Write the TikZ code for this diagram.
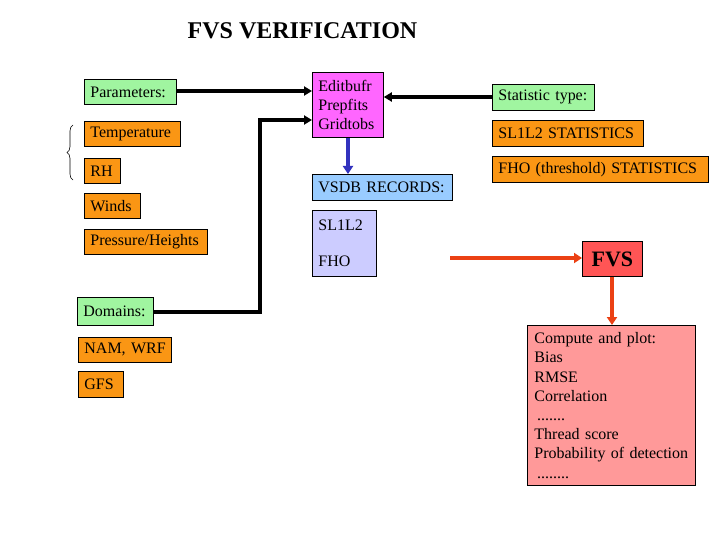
\documentclass[tikz,border=0pt]{standalone}
\usepackage{fontspec}
\setmainfont{Liberation Serif}
\usetikzlibrary{arrows.meta,decorations.pathreplacing}
\definecolor{cgreen}{RGB}{160,245,160}
\definecolor{corange}{RGB}{250,150,20}
\definecolor{cmagenta}{RGB}{255,102,255}
\definecolor{cblue}{RGB}{153,204,255}
\definecolor{clav}{RGB}{204,204,255}
\definecolor{cred}{RGB}{255,85,85}
\definecolor{cpink}{RGB}{255,153,153}
\definecolor{carrowred}{RGB}{235,65,20}
\definecolor{carrowblue}{RGB}{50,50,190}
\tikzset{
  bx/.style={draw=black, line width=0.8pt, anchor=north west, inner xsep=6pt, inner ysep=0pt,
    font=\fontsize{16}{19.2}\selectfont, align=left},
  greenbox/.style={bx, fill=cgreen},
  orangebox/.style={bx, fill=corange},
  conn/.style={line width=4pt, -{Triangle[length=8pt,width=9pt]}},
}
\begin{document}
\begin{tikzpicture}[x=1pt,y=-1pt]
\useasboundingbox (0,0) rectangle (720,540);
\node[font=\fontsize{24}{28}\selectfont\bfseries] (title) at (302.5,31) {FVS VERIFICATION};

% left column
\node[greenbox, minimum height=25pt, text width=80pt] (par) at (84,79) {Parameters:};
\node[orangebox, minimum height=25pt, text width=84pt] (temp) at (84,121) {Temperature};
\node[orangebox, minimum height=25pt, text width=24pt] (rh) at (84,158) {RH};
\node[orangebox, minimum height=25pt, text width=44pt] (winds) at (84,193) {Winds};
\node[orangebox, minimum height=25pt, text width=111pt] (pres) at (84,229) {Pressure/Heights};
\node[greenbox, minimum height=28pt, text width=64pt] (dom) at (77,297) {Domains:};
\node[orangebox, minimum height=25pt, text width=81pt] (nam) at (78,337) {\mbox{NAM, WRF}};
\node[orangebox, minimum height=26pt, text width=33pt] (gfs) at (78,371) {GFS};

% brace
\coordinate (brb) at (73,180);
\coordinate (brt) at (73,125);
\draw[decorate, decoration={brace, amplitude=6pt}, line width=0.6pt] (brb) -- (brt);

% middle
\node[bx, fill=cmagenta, minimum height=65pt, text width=59pt, inner ysep=4pt] (edit) at (312,72)
  {Editbufr\\Prepfits\\Gridtobs};
\node[bx, fill=cblue, minimum height=26pt, text width=128pt] (vsdb) at (312,174) {VSDB RECORDS:};
\node[bx, fill=clav, minimum height=66pt, text width=52pt] (sl) at (312,210) {SL1L2\\[17pt]FHO};

% right
\node[greenbox, minimum height=26pt, text width=90pt] (stat) at (492,84) {Statistic type:};
\node[orangebox, minimum height=26pt, text width=139pt] (sls) at (492,120) {SL1L2 STATISTICS};
\node[orangebox, minimum height=26pt, text width=204pt] (fhos) at (492,156) {FHO (threshold) STATISTICS};
\node[draw=black, line width=0.8pt, fill=cred, anchor=north west, minimum width=60pt, minimum height=35pt,
  inner sep=0pt, font=\fontsize{22}{26}\selectfont\bfseries] (fvs) at (582,241) {FVS};
\node[bx, fill=cpink, minimum height=160pt, text width=154pt, inner ysep=3pt, inner xsep=7pt] (comp) at (527,325)
  {Compute and plot:\\Bias\\RMSE\\Correlation\\\,.......\\Thread score\\Probability of detection\\\,........};

% connectors
\draw[conn] (par.east |- 0,91) -- (edit.west |- 0,91);
\draw[conn] (stat.west |- 0,97) -- (edit.east |- 0,97);
\coordinate (bend) at (260,312);
\draw[line width=4pt, line join=miter] (dom.east |- bend) -- (bend) -- (260,120) -- (300,120);
\draw[conn] (290,120) -- (edit.west |- 0,120);
\draw[conn, draw=carrowblue, fill=carrowblue, -{Triangle[length=8pt,width=10pt]}] (edit.south -| 348,0) -- (vsdb.north -| 348,0);
\coordinate (rs) at (450,258);
\draw[conn, draw=carrowred, -{Triangle[length=8pt,width=10pt]}] (rs) -- (fvs.west |- rs);
\draw[conn, draw=carrowred, -{Triangle[length=8pt,width=10pt]}] (fvs.south -| 612,0) -- (comp.north -| 612,0);
\end{tikzpicture}
\end{document}
